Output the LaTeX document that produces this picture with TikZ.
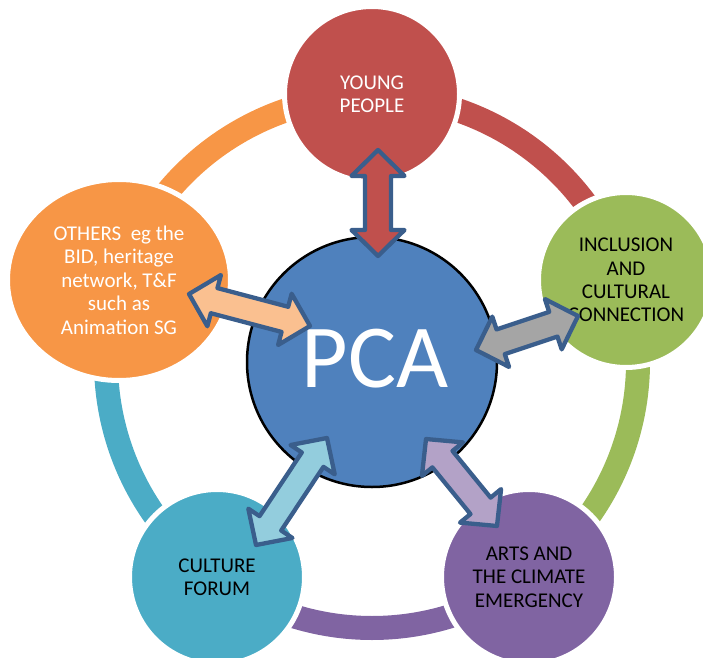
\documentclass[tikz,border=0pt]{standalone}
\usepackage{fontspec}
\setmainfont{Carlito}
\usetikzlibrary{calc,shapes.geometric}
\definecolor{cRed}{HTML}{C0504D}
\definecolor{cGreen}{HTML}{9BBB59}
\definecolor{cPurple}{HTML}{8064A2}
\definecolor{cTeal}{HTML}{4BACC6}
\definecolor{cOrange}{HTML}{F79646}
\definecolor{cBlue}{HTML}{4F81BD}
\definecolor{aGray}{HTML}{A5A5A5}
\definecolor{aLav}{HTML}{B3A2C7}
\definecolor{aSky}{HTML}{93CDDD}
\definecolor{aPeach}{HTML}{FAC090}
\definecolor{aLine}{HTML}{3A5E8C}
\tikzset{
  ringarc/.style={line width=24pt},
  sat/.style={circle, fill=#1, draw=white, line width=5pt, minimum size=175pt, inner sep=0pt, align=center,
    font=\fontsize{21}{23.3}\selectfont},
  blockarr/.style={draw=aLine, line width=4.3pt, line join=round, fill=#1},
}
\newcommand{\blockarrow}[3]{%
  \draw[blockarr=#1] let \p1=(#2), \p2=(#3),
    \n1={atan2(\y2-\y1,\x2-\x1)}, \n2={veclen(\x2-\x1,\y2-\y1)} in
    [shift={(\p1)}, rotate=\n1]
    (0,0) -- (26,26.5) -- (26,13) -- ({\n2-26},13) -- ({\n2-26},26.5) -- ({\n2},0)
    -- ({\n2-26},-26.5) -- ({\n2-26},-13) -- (26,-13) -- (26,-26.5) -- cycle;}
\begin{document}
\begin{tikzpicture}[x=1pt,y=1pt]
\useasboundingbox (0,0) rectangle (703,657);
\coordinate (rc) at (372,295);
% ring
\draw[ringarc, cRed] (rc) ++(90:266) arc[start angle=90, end angle=18, radius=266];
\draw[ringarc, cGreen] (rc) ++(18:266) arc[start angle=18, end angle=-54, radius=266];
\draw[ringarc, cPurple] (rc) ++(-54:266) arc[start angle=-54, end angle=-126, radius=266];
\draw[ringarc, cTeal] (rc) ++(-126:266) arc[start angle=-126, end angle=-198, radius=266];
\draw[ringarc, cOrange] (rc) ++(162:266) arc[start angle=162, end angle=90, radius=266];
% satellites
\node[sat=cRed, text=white] (young) at (372,563) {YOUNG\\PEOPLE};
\node[sat=cGreen, text=black] (incl) at (626,377) {INCLUSION\\AND\\CULTURAL\\CONNECTION};
\node[sat=cPurple, text=black] (arts) at (529,80) {ARTS AND\\THE CLIMATE\\EMERGENCY};
\node[sat=cTeal, text=black] (forum) at (217,80) {CULTURE\\FORUM};
\node[ellipse, fill=cOrange, draw=white, line width=5pt, minimum width=223pt, minimum height=201pt,
  inner sep=0pt, align=center, text=white, font=\fontsize{21}{23.5}\selectfont] (others) at (119,377)
  {OTHERS\ \ eg the\\BID, heritage\\network, T\&F\\such as\\Animation SG};
% centre
\node[circle, fill=cBlue, draw=black, line width=2.5pt, minimum size=250pt, inner sep=0pt] (pca) at (372,295) {};
\node[text=white, font=\fontsize{90}{90}\selectfont, inner sep=0pt] (pcalabel) at (375,298) {PCA};
% arrow ends
\coordinate (yA) at (378,401); \coordinate (yB) at (378,507);
\coordinate (iA) at (476,307); \coordinate (iB) at (578,341);
\coordinate (aA) at (426,218); \coordinate (aB) at (497,131);
\coordinate (fA) at (327,219); \coordinate (fB) at (256,112);
\coordinate (oA) at (310,331); \coordinate (oB) at (189,363);
\blockarrow{cRed}{yA}{yB}
\blockarrow{aGray}{iA}{iB}
\blockarrow{aLav}{aA}{aB}
\blockarrow{aSky}{fA}{fB}
\blockarrow{aPeach}{oA}{oB}
\end{tikzpicture}
\end{document}
